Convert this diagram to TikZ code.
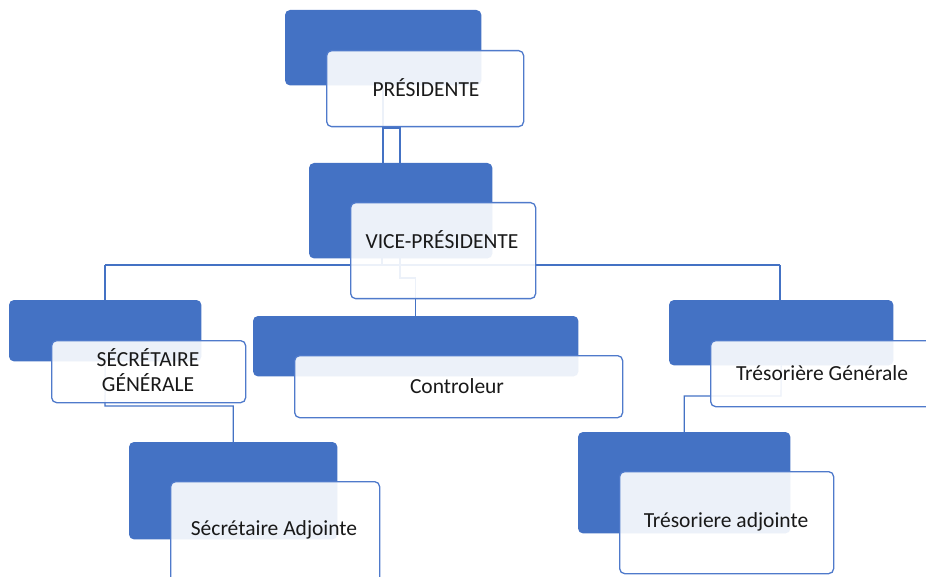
\documentclass[tikz,border=0pt]{standalone}
\usepackage{fontspec}
\setmainfont{Carlito}
\begin{document}
\begin{tikzpicture}[x=1pt,y=-1pt,
  conn/.style={draw=blueA,line width=1.1pt},
  whitebox/.style={fill=white,fill opacity=0.9,draw=blueB,line width=1.3pt,rounded corners=5pt,anchor=north west,inner sep=0pt},
  lbl/.style={font=\fontsize{21.5}{25}\selectfont,text=black!90,align=center,inner sep=0pt}]
\definecolor{blueA}{HTML}{4472C4}
\definecolor{blueB}{HTML}{4F7ACB}
\useasboundingbox (0,0) rectangle (926,577);
\clip (0,0) rectangle (926,577);
% blue back boxes (positions only, drawn later)
\path
  node[minimum width=196,minimum height=75,anchor=north west,inner sep=0pt] (pB) at (285,10) {}
  node[minimum width=183,minimum height=95,anchor=north west,inner sep=0pt] (vB) at (309,163) {}
  node[minimum width=192,minimum height=61,anchor=north west,inner sep=0pt] (sB) at (9,300) {}
  node[minimum width=325,minimum height=60,anchor=north west,inner sep=0pt] (cB) at (253,316) {}
  node[minimum width=224,minimum height=65,anchor=north west,inner sep=0pt] (tB) at (669,300) {}
  node[minimum width=208,minimum height=97,anchor=north west,inner sep=0pt] (saB) at (129,442) {}
  node[minimum width=212,minimum height=101,anchor=north west,inner sep=0pt] (taB) at (578,432) {};
\coordinate (pDrop) at ([xshift=98]pB.south west);
\coordinate (pTickL) at (383,128);
\coordinate (pTick) at (400,128);
\coordinate (vDrop) at ([xshift=73]vB.south west);
\coordinate (vDrop2) at ([xshift=91]vB.south west);
\coordinate (barL) at (105,265);
\coordinate (barR) at (780,265);
\coordinate (vJog) at (400,278);
\coordinate (sJog) at (105,406);
\coordinate (tJog) at (781,396);
% connectors
\draw[conn] (pDrop) -- (pDrop |- vB.north);
\draw[conn] (pTickL) -- (pTick) -- (pTick |- vB.north);
\draw[conn] (vDrop) -- (vDrop |- barL);
\draw[conn] (barL) -- (barR);
\draw[conn] (barL) -- (barL |- sB.north);
\draw[conn] (barR) -- (barR |- tB.north);
\draw[conn] (vDrop2) -- (vJog) -- (vJog -| cB.north) -- (cB.north);
\draw[conn] (sB.south) -- (sJog) -- (sJog -| saB.north) -- (saB.north);
\draw[conn] (tB.south) -- (tJog) -- (tJog -| taB.north) -- (taB.north);
% blue boxes
\foreach \n in {pB,vB,sB,cB,tB,saB,taB}
  \fill[blueA,rounded corners=5pt] (\n.north west) rectangle (\n.south east);
% white boxes
\node[whitebox,minimum width=197,minimum height=76] (pW) at (326,50) {};
\node[whitebox,minimum width=185,minimum height=96] (vW) at (350,202) {};
\node[whitebox,minimum width=194,minimum height=62] (sW) at (51,340) {};
\node[whitebox,minimum width=328,minimum height=62] (cW) at (294,355) {};
\node[whitebox,minimum width=240,minimum height=66] (tW) at (710,340) {};
\node[whitebox,minimum width=209,minimum height=110] (saW) at (170,481) {};
\node[whitebox,minimum width=214,minimum height=102] (taW) at (619,471) {};
% labels
\node[lbl] (pL) at (426,88) {PRÉSIDENTE};
\node[lbl] (vL) at (442,240) {VICE-PRÉSIDENTE};
\node[lbl] (sL) at (148,370) {SÉCRÉTAIRE\\GÉNÉRALE};
\node[lbl] (cL) at (457,386) {Controleur};
\node[lbl] (tL) at (822,373) {Trésorière Générale};
\node[lbl] (saL) at (274,530) {Sécrétaire Adjointe};
\node[lbl] (taL) at (726,522) {Trésoriere adjointe};
\end{tikzpicture}
\end{document}
